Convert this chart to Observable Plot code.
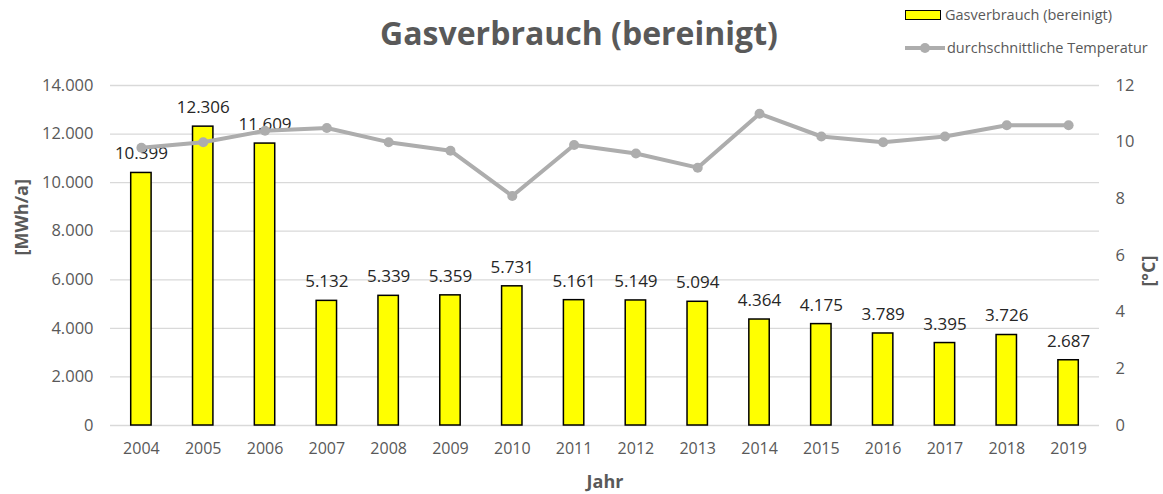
<!DOCTYPE html>
<html>
<head>
<meta charset="utf-8">
<script src="https://cdn.jsdelivr.net/npm/d3@7"></script>
<script src="https://cdn.jsdelivr.net/npm/@observablehq/plot@0.6"></script>
<style>
  body { margin: 0; background: #fff; font-family: "Open Sans", sans-serif; }
  #wrap { position: relative; width: 1163px; height: 494px; overflow: hidden; }
  #title { position: absolute; left: 0; width: 1163px; top: 11px; text-align: center; font-size: 32px; font-weight: bold; color: #595959; padding-right: 5px; box-sizing: border-box; line-height: 44px; }
  .leg { position: absolute; left: 905px; font-size: 14.5px; color: #595959; display: flex; align-items: center; white-space: nowrap; }
  .sw-bar { width: 36px; height: 10px; background: #FFFF00; border: 1.5px solid #000; box-sizing: border-box; margin-right: 4px; }
  .sw-line { width: 40px; height: 12px; position: relative; margin-right: 2px; }
  .sw-line::before { content: ""; position: absolute; left: 0; right: 0; top: 4px; height: 4px; background: #ADADAD; }
  .sw-line::after { content: ""; position: absolute; left: 15px; top: 1px; width: 10px; height: 10px; border-radius: 50%; background: #ADADAD; }
  svg { position: absolute; left: 0; top: 0; }
</style>
</head>
<body>
<div id="wrap">
  <div id="chart"></div>
  <div id="title">Gasverbrauch (bereinigt)</div>
  <div class="leg" style="top:5px"><div class="sw-bar"></div>Gasverbrauch (bereinigt)</div>
  <div class="leg" style="top:38px"><div class="sw-line"></div>durchschnittliche Temperatur</div>
</div>
<script>
const years = ["2004","2005","2006","2007","2008","2009","2010","2011","2012","2013","2014","2015","2016","2017","2018","2019"];
const gas = [10399, 12306, 11609, 5132, 5339, 5359, 5731, 5161, 5149, 5094, 4364, 4175, 3789, 3395, 3726, 2687];
const temp = [9.8, 10.0, 10.4, 10.5, 10.0, 9.7, 8.1, 9.9, 9.6, 9.1, 11.0, 10.2, 10.0, 10.2, 10.6, 10.6];
const leftTicks = [0, 2000, 4000, 6000, 8000, 10000, 12000, 14000];
const rightTicks = [0, 2, 4, 6, 8, 10, 12];

const k = 14000 / 12;
const de = d3.formatLocale({decimal: ",", thousands: ".", grouping: [3], currency: ["", "€"]});
const fmt = de.format(",d");

const bars = years.map((y, i) => ({year: y, gas: gas[i]}));
const temps = years.map((y, i) => ({year: y, t: temp[i] * k}));

const chart = Plot.plot({
  width: 1163,
  height: 494,
  marginTop: 85,
  marginBottom: 69,
  marginLeft: 110,
  marginRight: 64,
  style: {fontFamily: "Open Sans, sans-serif", background: "transparent"},
  x: {domain: years, paddingInner: 0.67, paddingOuter: 0.335, round: false, label: null},
  y: {domain: [0, 14000], label: null},
  marks: [
    Plot.ruleY(leftTicks, {stroke: "#D9D9D9", strokeWidth: 1.3}),
    Plot.barY(bars, {x: "year", y: "gas", fill: "#FFFF00", stroke: "#000", strokeWidth: 1.5}),
    Plot.text(bars, {x: "year", y: "gas", text: d => fmt(d.gas), dy: -19, fontSize: 17, fill: "#262626"}),
    Plot.line(temps, {x: "year", y: "t", stroke: "#ADADAD", strokeWidth: 4, strokeLinejoin: "round"}),
    Plot.dot(temps, {x: "year", y: "t", r: 5, fill: "#ADADAD", stroke: null}),
    Plot.axisX({tickSize: 0, tickPadding: 17, fontSize: 16, color: "#595959", label: "Jahr", labelAnchor: "center", labelOffset: 62}),
    Plot.axisY(leftTicks, {anchor: "left", tickSize: 0, tickPadding: 17, fontSize: 16.5, color: "#595959", tickFormat: fmt, label: null}),
    Plot.axisY(rightTicks.map(t => t * k), {anchor: "right", tickSize: 0, tickPadding: 16, fontSize: 16.5, color: "#595959", tickFormat: d => Math.round(d / k), label: null}),
    Plot.text(["[MWh/a]"], {frameAnchor: "left", dx: -88, rotate: -90, fontSize: 18, fontWeight: "bold", fill: "#595959"}),
    Plot.text(["[°C]"], {frameAnchor: "right", dx: 50, rotate: -90, fontSize: 18, fontWeight: "bold", fill: "#595959"})
  ]
});
document.getElementById("chart").appendChild(chart);
chart.querySelectorAll("g[aria-label='x-axis label'] text").forEach(t => { t.setAttribute("font-weight", "bold"); t.setAttribute("font-size", 18); t.setAttribute("fill", "#595959"); });
</script>
</body>
</html>
